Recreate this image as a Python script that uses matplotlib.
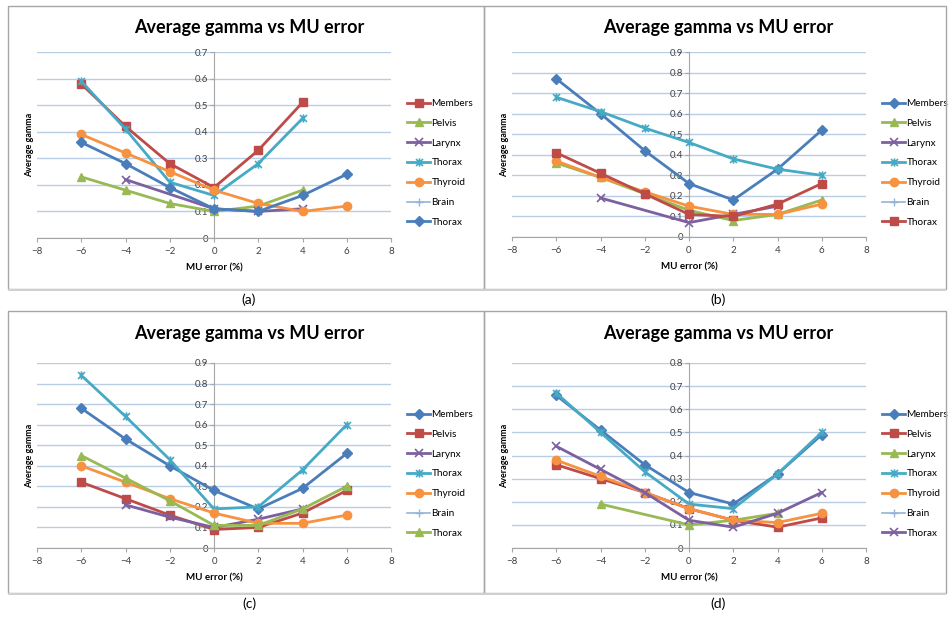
import matplotlib
matplotlib.use("Agg")
import matplotlib.pyplot as plt
from matplotlib.path import Path
from matplotlib.patches import Rectangle


### DATA ###

MU_ERROR = [-6, -4, -2, 0, 2, 4, 6]

# (a)
A_MEMBERS_X = [-6, -4, -2, 0, 2, 4]
A_MEMBERS = [0.58, 0.42, 0.28, 0.19, 0.33, 0.51]
A_PELVIS_X = [-6, -4, -2, 0, 2, 4]
A_PELVIS = [0.23, 0.18, 0.13, 0.10, 0.12, 0.18]
A_LARYNX_X = [-4, 0, 2, 4]
A_LARYNX = [0.22, 0.11, 0.10, 0.11]
A_THORAX_X = [-6, -4, -2, 0, 2, 4]
A_THORAX = [0.59, 0.41, 0.21, 0.16, 0.28, 0.45]
A_THYROID = [0.39, 0.32, 0.25, 0.18, 0.13, 0.10, 0.12]
A_THORAX2 = [0.36, 0.28, 0.19, 0.11, 0.10, 0.16, 0.24]

# (b)
B_MEMBERS = [0.77, 0.60, 0.42, 0.26, 0.18, 0.33, 0.52]
B_PELVIS = [0.36, 0.29, 0.21, 0.13, 0.08, 0.11, 0.18]
B_LARYNX_X = [-4, 0, 2, 4]
B_LARYNX = [0.19, 0.07, 0.11, 0.15]
B_THORAX = [0.68, 0.61, 0.53, 0.46, 0.38, 0.33, 0.30]
B_THYROID = [0.37, 0.29, 0.22, 0.15, 0.11, 0.11, 0.16]
B_THORAX2 = [0.41, 0.31, 0.21, 0.11, 0.10, 0.16, 0.26]

# (c)
C_MEMBERS = [0.68, 0.53, 0.40, 0.28, 0.19, 0.29, 0.46]
C_PELVIS = [0.32, 0.24, 0.16, 0.09, 0.10, 0.17, 0.28]
C_LARYNX_X = [-4, -2, 0, 2, 4]
C_LARYNX = [0.21, 0.15, 0.10, 0.14, 0.19]
C_THORAX = [0.84, 0.64, 0.43, 0.19, 0.20, 0.38, 0.60]
C_THYROID = [0.40, 0.32, 0.24, 0.17, 0.12, 0.12, 0.16]
C_THORAX2 = [0.45, 0.34, 0.23, 0.11, 0.11, 0.19, 0.30]

# (d)
D_MEMBERS = [0.66, 0.51, 0.36, 0.24, 0.19, 0.32, 0.49]
D_PELVIS = [0.36, 0.30, 0.24, 0.17, 0.12, 0.09, 0.13]
D_LARYNX_X = [-4, 0, 2, 4]
D_LARYNX = [0.19, 0.10, 0.12, 0.15]
D_THORAX = [0.67, 0.50, 0.33, 0.19, 0.17, 0.32, 0.50]
D_THYROID = [0.38, 0.31, 0.24, 0.17, 0.12, 0.11, 0.15]
D_THORAX2 = [0.44, 0.34, 0.24, 0.12, 0.09, 0.15, 0.24]

Y_MAX = {"a": 0.7, "b": 0.9, "c": 0.9, "d": 0.8}


### STYLES ###

# excel "star" marker: an x with a vertical bar through it
STAR = Path([(-1, -1), (1, 1), (-1, 1), (1, -1), (0, -1.2), (0, 1.2)],
            [Path.MOVETO, Path.LINETO, Path.MOVETO, Path.LINETO, Path.MOVETO, Path.LINETO])

STYLES = {
    "blue": dict(color="#4A7EBB", marker="D", ms=5),
    "red": dict(color="#BE4B48", marker="s", ms=5.5),
    "green": dict(color="#98B954", marker="^", ms=6),
    "purple": dict(color="#7D60A0", marker="x", ms=6, mew=1.2),
    "cyan": dict(color="#46AAC5", marker=STAR, ms=6, mew=1.2, mfc="none"),
    "orange": dict(color="#F69240", marker="o", ms=6),
    "brain": dict(color="#95B3D7", marker="+", ms=6, lw=1.2),
}

plt.rcParams["font.family"] = ["Lato", "DejaVu Sans"]

W, H = 950, 625
fig = plt.figure(figsize=(W / 100, H / 100), dpi=100)


def fx(px):
    return px / W


def fy(py):
    return 1 - py / H


def draw_panel(key, box, ax_px, series):
    x0, y0, x1, y1 = box
    fig.patches.append(Rectangle((fx(x0), fy(y1)), fx(x1 - x0), (y1 - y0) / H,
                                 transform=fig.transFigure, fill=False,
                                 edgecolor="#A6A6A6", lw=1.0))
    fig.patches.append(Rectangle((fx(x0), fy(y1 + 2)), fx(x1 - x0), 2 / H,
                                 transform=fig.transFigure, color="#D0D0D0", lw=0))

    l, t, r, b = ax_px
    ax = fig.add_axes([fx(l), fy(b), fx(r - l), (b - t) / H])
    ymax = Y_MAX[key]

    for name, style, xs, ys in series:
        st = dict(STYLES[style])
        lw = st.pop("lw", 2.0)
        ax.plot(xs, ys, label=name, lw=lw, zorder=3, clip_on=False, **st)

    ax.set_xlim(-8, 8)
    ax.set_ylim(0, ymax)
    ax.set_xticks(range(-8, 9, 2))
    yt = [round(0.1 * i, 1) for i in range(int(round(ymax * 10)) + 1)]
    ax.set_yticks(yt, ["0" if v == 0 else f"{v:g}" for v in yt])
    ax.grid(axis="y", color="#B9CDE5", lw=1.0, zorder=0)
    ax.set_axisbelow(True)
    for s in ["top", "right"]:
        ax.spines[s].set_visible(False)
    ax.spines["left"].set_position(("data", 0))
    ax.spines["left"].set_color("#A6A6A6")
    ax.spines["bottom"].set_color("#A6A6A6")
    ax.tick_params(axis="both", labelsize=7, colors="#A6A6A6", labelcolor="#404040", length=3)
    ax.tick_params(axis="y", pad=1)
    ax.set_xlabel("MU error (%)", fontsize=7, fontweight="bold", labelpad=5)

    fig.text(fx(l - 7), fy((t + b) / 2), "Average gamma", rotation=90,
             fontsize=6.5, fontweight="bold", ha="center", va="center")
    fig.text(fx((x0 + x1) / 2 + 3), fy(y0 + 22), "Average gamma vs MU error",
             fontsize=13, fontweight="bold", ha="center", va="center")
    fig.text(fx((x0 + x1) / 2 + 3), fy(y1 + 11), f"({key})",
             fontsize=10, ha="center", va="center")

    ax.legend(loc="upper left", bbox_to_anchor=(fx(r + 16), fy(t + 47)),
              bbox_transform=fig.transFigure, frameon=False, fontsize=7.2,
              handlelength=2.3, handletextpad=0.15, labelspacing=1.08,
              borderpad=0, borderaxespad=0)
    return ax


series_a = [
    ("Members", "red", A_MEMBERS_X, A_MEMBERS),
    ("Pelvis", "green", A_PELVIS_X, A_PELVIS),
    ("Larynx", "purple", A_LARYNX_X, A_LARYNX),
    ("Thorax", "cyan", A_THORAX_X, A_THORAX),
    ("Thyroid", "orange", MU_ERROR, A_THYROID),
    ("Brain", "brain", [], []),
    ("Thorax", "blue", MU_ERROR, A_THORAX2),
]
series_b = [
    ("Members", "blue", MU_ERROR, B_MEMBERS),
    ("Pelvis", "green", MU_ERROR, B_PELVIS),
    ("Larynx", "purple", B_LARYNX_X, B_LARYNX),
    ("Thorax", "cyan", MU_ERROR, B_THORAX),
    ("Thyroid", "orange", MU_ERROR, B_THYROID),
    ("Brain", "brain", [], []),
    ("Thorax", "red", MU_ERROR, B_THORAX2),
]
series_c = [
    ("Members", "blue", MU_ERROR, C_MEMBERS),
    ("Pelvis", "red", MU_ERROR, C_PELVIS),
    ("Larynx", "purple", C_LARYNX_X, C_LARYNX),
    ("Thorax", "cyan", MU_ERROR, C_THORAX),
    ("Thyroid", "orange", MU_ERROR, C_THYROID),
    ("Brain", "brain", [], []),
    ("Thorax", "green", MU_ERROR, C_THORAX2),
]
series_d = [
    ("Members", "blue", MU_ERROR, D_MEMBERS),
    ("Pelvis", "red", MU_ERROR, D_PELVIS),
    ("Larynx", "green", D_LARYNX_X, D_LARYNX),
    ("Thorax", "cyan", MU_ERROR, D_THORAX),
    ("Thyroid", "orange", MU_ERROR, D_THYROID),
    ("Brain", "brain", [], []),
    ("Thorax", "purple", MU_ERROR, D_THORAX2),
]

draw_panel("a", (8, 6, 484, 289), (37, 52, 391, 238), series_a)
draw_panel("b", (484, 6, 946, 289), (512, 52, 866, 237), series_b)
draw_panel("c", (8, 311, 484, 593), (37, 363, 391, 548), series_c)
draw_panel("d", (484, 311, 946, 593), (512, 363, 866, 548), series_d)

fig.savefig("out.png", dpi=100, facecolor="white")
